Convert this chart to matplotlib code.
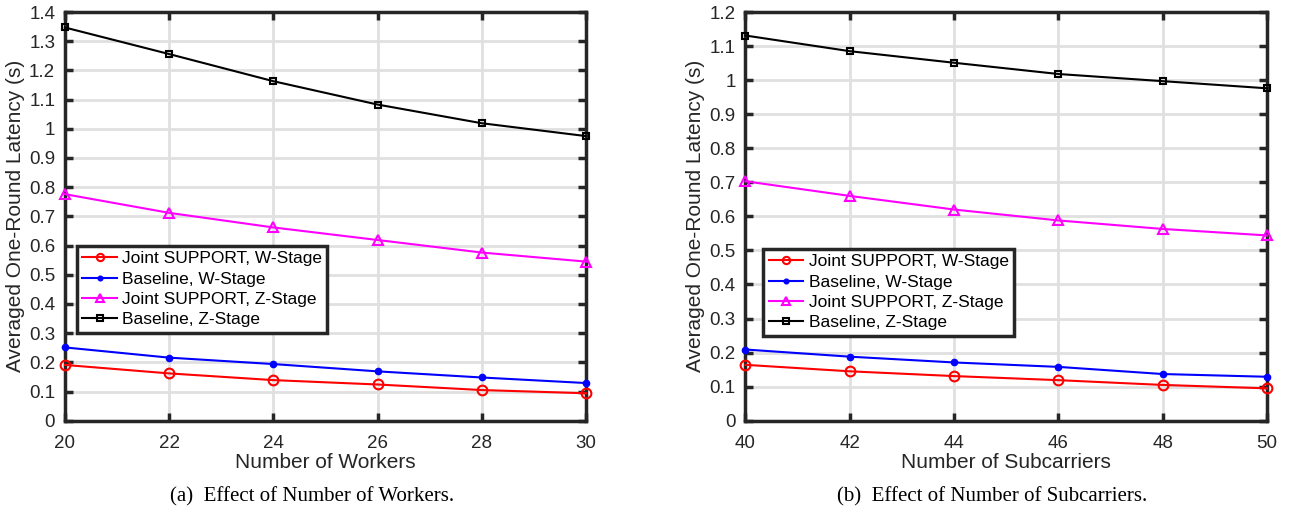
import matplotlib.pyplot as plt
import numpy as np

plt.rcParams['font.family'] = ['Liberation Sans', 'DejaVu Sans']

# ---- data ----
workers = [20, 22, 24, 26, 28, 30]
w_joint_w = [0.191, 0.162, 0.139, 0.124, 0.105, 0.094]
w_base_w = [0.251, 0.216, 0.194, 0.169, 0.148, 0.129]
w_joint_z = [0.776, 0.712, 0.662, 0.619, 0.576, 0.545]
w_base_z = [1.347, 1.256, 1.163, 1.083, 1.019, 0.975]

subcarriers = [40, 42, 44, 46, 48, 50]
s_joint_w = [0.164, 0.145, 0.131, 0.119, 0.105, 0.095]
s_base_w = [0.209, 0.188, 0.171, 0.158, 0.137, 0.129]
s_joint_z = [0.703, 0.660, 0.620, 0.588, 0.563, 0.544]
s_base_z = [1.131, 1.085, 1.051, 1.018, 0.997, 0.976]

labels = ['Joint SUPPORT, W-Stage', 'Baseline, W-Stage',
          'Joint SUPPORT, Z-Stage', 'Baseline, Z-Stage']
styles = [dict(color='#ff0000', marker='o', mfc='none', ms=7, mew=1.5),
          dict(color='#0000ff', marker='o', ms=4.5),
          dict(color='#ff00ff', marker='^', mfc='none', ms=7.5, mew=1.5),
          dict(color='#000000', marker='s', mfc='none', ms=5, mew=1.5)]

spine_col = '#262626'


def draw_panel(ax, x, series, ylim, yticks, xlabel, legend_anchor):
    for y, lab, st in zip(series, labels, styles):
        ax.plot(x, y, label=lab, lw=1.5, clip_on=False, zorder=3, **st)
    ax.set_xlim(x[0], x[-1])
    ax.set_ylim(ylim)
    ax.set_xticks(x)
    ax.set_yticks(yticks)
    ax.set_yticklabels(['%g' % t for t in yticks])
    ax.grid(True, color='#e0e0e0', lw=2)
    ax.set_axisbelow(True)
    for s in ax.spines.values():
        s.set_linewidth(2.5)
        s.set_color(spine_col)
    ax.tick_params(direction='in', length=6, width=2.5, color=spine_col,
                   labelsize=13.5, labelcolor='#262626', top=True, right=True)
    ax.tick_params(axis='x', pad=10)
    ax.tick_params(axis='y', pad=7)
    ax.set_xlabel(xlabel, fontsize=15, color='#262626', labelpad=1)
    ax.set_ylabel('Averaged One-Round Latency (s)', fontsize=15,
                  color='#262626', labelpad=3)
    leg = ax.legend(loc='upper left', bbox_to_anchor=legend_anchor,
                    fontsize=12.5, fancybox=False, framealpha=1,
                    borderpad=0.3, labelspacing=0.3, handlelength=2.0,
                    handletextpad=0.3, borderaxespad=0, markerscale=0.75)
    leg.get_frame().set_edgecolor(spine_col)
    leg.get_frame().set_linewidth(2.5)
    for t in leg.get_texts():
        t.set_color('black')


fig = plt.figure(figsize=(12.99, 5.16), dpi=100)
ax1 = fig.add_axes([0.0500, 0.1847, 0.4011, 0.792])
ax2 = fig.add_axes([0.5739, 0.1847, 0.4015, 0.792])

draw_panel(ax1, workers, [w_joint_w, w_base_w, w_joint_z, w_base_z],
           (0, 1.4), np.round(np.arange(0, 1.41, 0.1), 1),
           'Number of Workers', (0.023, 0.4275))
draw_panel(ax2, subcarriers, [s_joint_w, s_base_w, s_joint_z, s_base_z],
           (0, 1.2), np.round(np.arange(0, 1.21, 0.1), 1),
           'Number of Subcarriers', (0.0345, 0.42))

fig.text(0.240, 0.037, '(a)  Effect of Number of Workers.',
         family='Liberation Serif', fontsize=15, ha='center', va='center')
fig.text(0.764, 0.037, '(b)  Effect of Number of Subcarriers.',
         family='Liberation Serif', fontsize=15, ha='center', va='center')

fig.savefig('out.png', dpi=100)
